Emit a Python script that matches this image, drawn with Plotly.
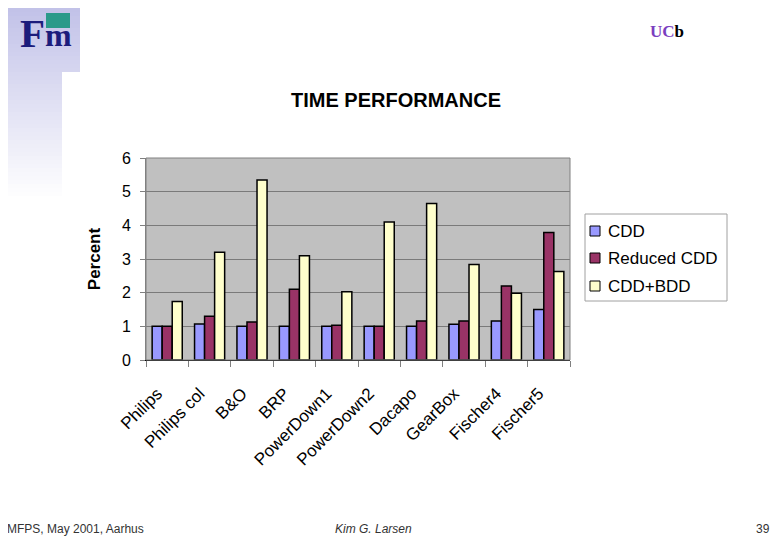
import plotly.graph_objects as go

categories = ["Philips", "Philips col", "B&O", "BRP", "PowerDown1", "PowerDown2",
              "Dacapo", "GearBox", "Fischer4", "Fischer5"]
cdd = [1.0, 1.07, 1.0, 1.0, 1.0, 1.0, 1.0, 1.06, 1.16, 1.5]
reduced_cdd = [1.0, 1.3, 1.13, 2.1, 1.03, 1.0, 1.16, 1.16, 2.2, 3.79]
cdd_bdd = [1.74, 3.2, 5.35, 3.1, 2.03, 4.1, 4.65, 2.84, 1.98, 2.63]
y_ticks = [0, 1, 2, 3, 4, 5, 6]
series_names = ["CDD", "Reduced CDD", "CDD+BDD"]
series_colors = ["#9999FF", "#993366", "#FFFFCC"]
series_values = [cdd, reduced_cdd, cdd_bdd]


def xp(x):
    return (x - 146) / 424


def yp(y):
    return (360 - y) / 202


fig = go.Figure()
for name, vals, col in zip(series_names, series_values, series_colors):
    fig.add_trace(go.Bar(x=categories, y=vals, name=name,
                         marker=dict(color=col, line=dict(color="black", width=1.5))))

fig.update_layout(
    width=772, height=532,
    paper_bgcolor="white", plot_bgcolor="#C0C0C0",
    margin=dict(l=138, r=210, t=150, b=180, autoexpand=False),
    barmode="group", bargap=0.29, bargroupgap=0,
    font=dict(family="Liberation Sans, Arial", size=16, color="black"),
    showlegend=False,
    xaxis=dict(type="category", tickson="boundaries", ticks="outside", ticklen=6,
               tickcolor="#808080", tickangle=-45, showgrid=False,
               showline=True, linecolor="black", linewidth=1,
               tickfont=dict(size=17), ticklabelstandoff=16, ticklabelshift=-10),
    yaxis=dict(range=[0, 6], tickvals=y_ticks, ticks="outside", ticklen=5,
               tickcolor="#808080", showgrid=True, gridcolor="#7A7A7A", gridwidth=1,
               showline=True, linecolor="#808080", linewidth=1, zeroline=False,
               tickfont=dict(size=16), ticklabelstandoff=6,
               title=dict(text="<b>Percent</b>", font=dict(size=17), standoff=16)),
)

shapes = []
# slide decoration: left gradient panel
steps = 50
top_c = (192, 192, 232)
for i in range(steps):
    y0 = i * 200 / steps
    y1 = (i + 1) * 200 / steps + 0.6
    t = i / (steps - 1)
    c = tuple(int(top_c[k] + (255 - top_c[k]) * t) for k in range(3))
    right = 80 if y0 < 72 else 62
    shapes.append(dict(type="rect", xref="paper", yref="paper",
                       x0=xp(0), x1=xp(right), y0=yp(min(y1, 72) if y0 < 72 else y1), y1=yp(y0),
                       fillcolor=f"rgb{c}", line=dict(width=0), layer="below"))
# logo teal block
shapes.append(dict(type="rect", xref="paper", yref="paper", x0=xp(46), x1=xp(70),
                   y0=yp(28), y1=yp(13), fillcolor="#2A9A8A", line=dict(width=0)))
# plot border
shapes.append(dict(type="rect", xref="paper", yref="paper", x0=0, x1=1, y0=0, y1=1,
                   line=dict(color="#808080", width=1), fillcolor="rgba(0,0,0,0)"))
# legend box
shapes.append(dict(type="rect", xref="paper", yref="paper", x0=xp(585), x1=xp(727),
                   y0=yp(301), y1=yp(214), fillcolor="white", line=dict(color="#A0A0A0", width=1)))
legend_y = [231, 258, 286]
for ly, col in zip(legend_y, series_colors):
    shapes.append(dict(type="rect", xref="paper", yref="paper", x0=xp(590), x1=xp(600),
                       y0=yp(ly + 5), y1=yp(ly - 5), fillcolor=col,
                       line=dict(color="black", width=1)))
fig.update_layout(shapes=shapes)

ann = [
    dict(text="<b>TIME PERFORMANCE</b>", x=xp(396), y=yp(100), font=dict(size=20)),
    dict(text="<b>F</b>", x=xp(18), y=yp(33), xanchor="left",
         font=dict(family="Liberation Serif", size=41, color="#1C1C7C")),
    dict(text="<b>m</b>", x=xp(58), y=yp(35),
         font=dict(family="Liberation Serif", size=32, color="#1C1C7C")),
    dict(text="<span style='color:#7B3FBF'><b>UC</b></span><b>b</b>", x=xp(667), y=yp(31),
         font=dict(family="Liberation Serif", size=17, color="black")),
    dict(text="MFPS, May 2001, Aarhus", x=xp(5), y=yp(529), xanchor="left",
         font=dict(size=12, color="#333333")),
    dict(text="<i>Kim G. Larsen</i>", x=xp(333), y=yp(529), xanchor="left",
         font=dict(size=12, color="#333333")),
    dict(text="39", x=xp(772), y=yp(529), xanchor="right",
         font=dict(size=12, color="#333333")),
]
for ly, name in zip(legend_y, series_names):
    ann.append(dict(text=name, x=xp(606), y=yp(ly), xanchor="left", font=dict(size=17)))
for a in ann:
    a.setdefault("xanchor", "center")
    a.update(xref="paper", yref="paper", yanchor="middle", showarrow=False)
fig.update_layout(annotations=ann)

fig.write_html("out.html")
